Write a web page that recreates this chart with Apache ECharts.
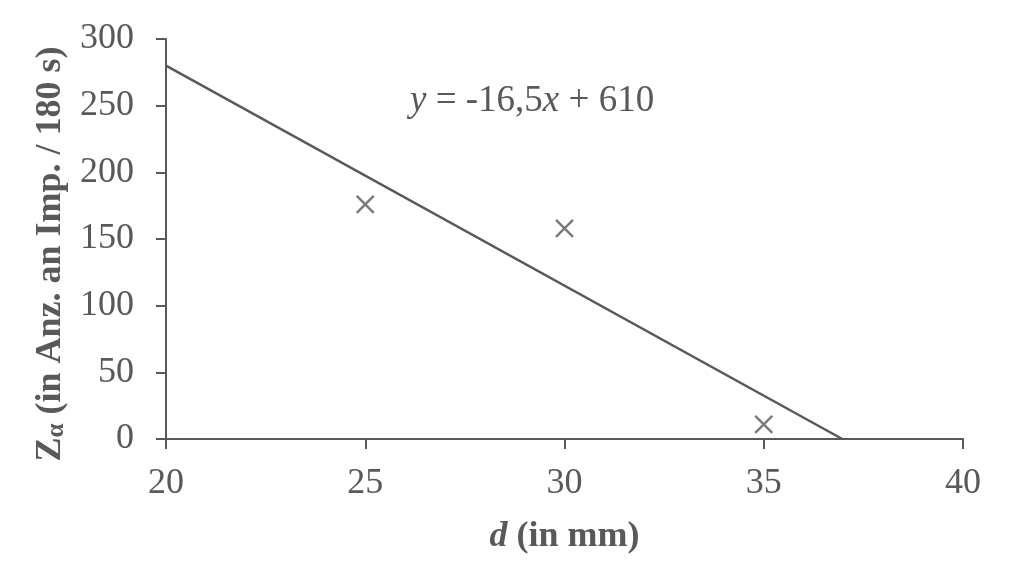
<!DOCTYPE html>
<html><head><meta charset="utf-8">
<script src="https://cdn.jsdelivr.net/npm/echarts@6/dist/echarts.min.js"></script>
<style>html,body{margin:0;padding:0;background:#fff}#c{width:1024px;height:582px}</style>
</head><body><div id="c"></div>
<script>
var pointsX = [25, 30, 35];
var pointsY = [176, 158, 11];
var trendX = [20, 36.97];
var trendY = [280, 0];
var xTicks = [20, 25, 30, 35, 40];
var yTicks = [0, 50, 100, 150, 200, 250, 300];

var grey = '#595959';
var font = 'Liberation Serif';
var chart = echarts.init(document.getElementById('c'));
chart.setOption({
  backgroundColor: '#fff',
  animation: false,
  grid: {left: 166, right: 61, top: 39, bottom: 143},
  xAxis: {
    type: 'value', min: xTicks[0], max: xTicks[xTicks.length-1], interval: 5,
    axisLine: {lineStyle: {color: grey, width: 2}},
    axisTick: {show: true, length: 10, inside: false, lineStyle: {color: grey, width: 2}},
    splitLine: {show: false},
    axisLabel: {color: grey, fontFamily: font, fontSize: 36, margin: 27},
    name: '{bi|d}{b| (in mm)}',
    nameLocation: 'middle', nameGap: 80,
    nameTextStyle: {
      rich: {
        bi: {fontFamily: font, fontSize: 36, fontWeight: 'bold', fontStyle: 'italic', color: grey},
        b: {fontFamily: font, fontSize: 36, fontWeight: 'bold', color: grey}
      }
    }
  },
  yAxis: {
    type: 'value', min: yTicks[0], max: yTicks[yTicks.length-1], interval: 50,
    axisLine: {show: true, lineStyle: {color: grey, width: 2}},
    axisTick: {show: true, length: 10, inside: false, lineStyle: {color: grey, width: 2}},
    splitLine: {show: false},
    axisLabel: {color: grey, fontFamily: font, fontSize: 36, margin: 32},
    name: '{b|Z}{sub|α}{b| (in Anz. an Imp. / 180 s)}',
    nameLocation: 'middle', nameGap: 95, nameRotate: 90,
    nameTextStyle: {
      padding: [0, 30, 0, 0],
      rich: {
        b: {fontFamily: font, fontSize: 36, fontWeight: 'bold', color: grey},
        sub: {fontFamily: font, fontSize: 25, fontWeight: 'bold', color: grey, verticalAlign: 'bottom', padding: [12, 0, 0, 0]}
      }
    }
  },
  graphic: [{
    type: 'text', left: 410, top: 83,
    style: {
      text: '{i|y} = -16,5{i|x} + 610',
      fontFamily: font, fontSize: 37, fill: grey,
      rich: {i: {fontFamily: font, fontSize: 37, fontStyle: 'italic', color: grey}}
    }
  }],
  series: [{
    type: 'line',
    data: trendX.map(function(x, i){ return [x, trendY[i]]; }),
    symbol: 'none',
    lineStyle: {color: grey, width: 2.5}
  }, {
    type: 'scatter',
    data: pointsX.map(function(x, i){ return [x, pointsY[i]]; }),
    symbol: 'path://M0,0L10,10M10,0L0,10',
    symbolSize: 17,
    itemStyle: {color: 'rgba(0,0,0,0)', borderColor: grey, borderWidth: 2.4}
  }]
});
</script></body></html>
